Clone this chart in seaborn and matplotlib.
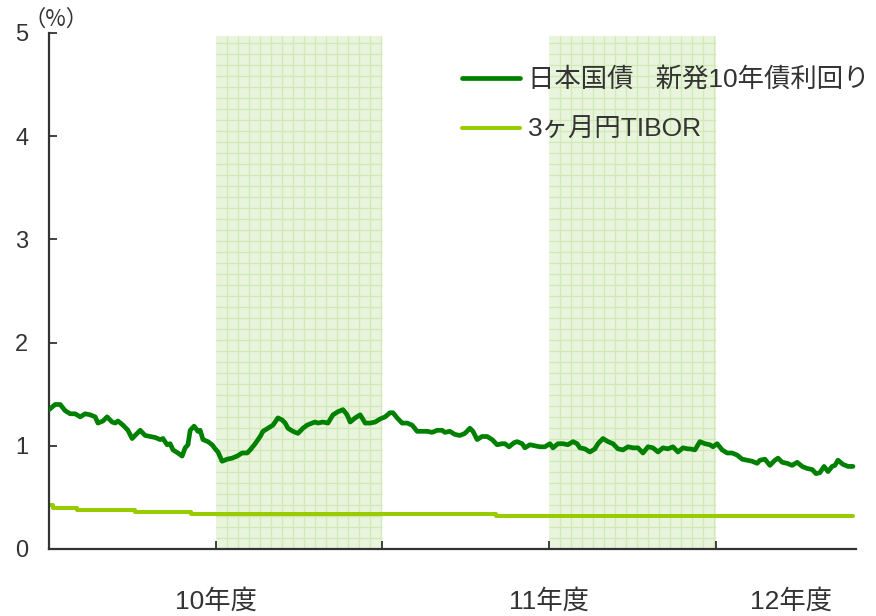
import numpy as np
import pandas as pd
import matplotlib
matplotlib.use("Agg")
import matplotlib.pyplot as plt
import seaborn as sns

# Months elapsed on the horizontal axis (ticks every half year)
jgb_month = [
    0.00, 0.22, 0.40, 0.58, 0.76, 0.94, 1.12, 1.30, 1.48, 1.66, 1.76, 1.94,
    2.09, 2.27, 2.38, 2.48, 2.66, 2.84, 2.99, 3.10, 3.28, 3.46, 3.64, 3.82,
    4.00, 4.10, 4.25, 4.36, 4.46, 4.64, 4.79, 4.90, 5.00, 5.08, 5.22, 5.36,
    5.44, 5.54, 5.72, 5.87, 5.98, 6.08, 6.23, 6.41, 6.59, 6.77, 6.95, 7.13,
    7.24, 7.42, 7.60, 7.70, 7.88, 8.06, 8.24, 8.39, 8.50, 8.60, 8.78, 8.96,
    9.14, 9.29, 9.47, 9.58, 9.68, 9.86, 10.04, 10.22, 10.40, 10.58, 10.73, 10.84,
    11.02, 11.20, 11.38, 11.56, 11.74, 11.92, 12.10, 12.27, 12.38, 12.53, 12.71, 12.89,
    13.07, 13.25, 13.43, 13.61, 13.79, 13.97, 14.15, 14.25, 14.43, 14.61, 14.79, 14.97,
    15.15, 15.26, 15.41, 15.59, 15.77, 15.95, 16.13, 16.31, 16.41, 16.56, 16.74, 16.85,
    17.03, 17.13, 17.31, 17.49, 17.67, 17.85, 18.03, 18.14, 18.32, 18.50, 18.68, 18.86,
    19.01, 19.11, 19.29, 19.47, 19.65, 19.76, 19.94, 20.12, 20.30, 20.48, 20.66, 20.84,
    21.02, 21.20, 21.38, 21.56, 21.74, 21.92, 22.10, 22.28, 22.46, 22.64, 22.82, 23.00,
    23.07, 23.25, 23.43, 23.61, 23.79, 23.90, 24.05, 24.23, 24.41, 24.59, 24.77, 24.95,
    25.13, 25.31, 25.49, 25.59, 25.77, 25.95, 26.13, 26.24, 26.39, 26.57, 26.75, 26.93,
    27.11, 27.29, 27.47, 27.61, 27.75, 27.90, 28.04, 28.19, 28.29, 28.40, 28.58, 28.76,
    28.94,
]
jgb_yield = [
    1.35, 1.40, 1.40, 1.34, 1.31, 1.31, 1.28, 1.31, 1.30, 1.28, 1.22, 1.24,
    1.28, 1.23, 1.22, 1.24, 1.20, 1.15, 1.07, 1.10, 1.15, 1.10, 1.09, 1.08,
    1.06, 1.07, 1.01, 1.02, 0.96, 0.93, 0.90, 0.98, 1.01, 1.15, 1.19, 1.14,
    1.15, 1.06, 1.04, 1.01, 0.97, 0.94, 0.85, 0.87, 0.88, 0.90, 0.93, 0.93,
    0.96, 1.02, 1.09, 1.14, 1.17, 1.20, 1.27, 1.25, 1.22, 1.17, 1.14, 1.12,
    1.17, 1.20, 1.22, 1.23, 1.22, 1.23, 1.22, 1.30, 1.33, 1.35, 1.30, 1.23,
    1.27, 1.30, 1.22, 1.22, 1.23, 1.26, 1.28, 1.32, 1.32, 1.27, 1.22, 1.22,
    1.20, 1.14, 1.14, 1.14, 1.13, 1.15, 1.15, 1.13, 1.14, 1.11, 1.10, 1.12,
    1.17, 1.14, 1.06, 1.09, 1.09, 1.06, 1.01, 1.02, 1.02, 0.99, 1.03, 1.04,
    1.02, 0.98, 1.01, 1.00, 0.99, 0.99, 1.02, 0.98, 1.02, 1.02, 1.01, 1.04,
    1.02, 0.98, 0.97, 0.94, 0.97, 1.02, 1.07, 1.04, 1.02, 0.97, 0.96, 0.99,
    0.98, 0.98, 0.93, 0.99, 0.98, 0.94, 0.98, 0.97, 0.99, 0.94, 0.98, 0.97,
    0.97, 0.96, 1.04, 1.02, 1.01, 0.99, 1.02, 0.96, 0.93, 0.93, 0.91, 0.87,
    0.86, 0.85, 0.83, 0.86, 0.87, 0.81, 0.86, 0.88, 0.84, 0.83, 0.81, 0.84,
    0.80, 0.78, 0.77, 0.73, 0.74, 0.80, 0.75, 0.80, 0.81, 0.86, 0.82, 0.80,
    0.80,
]

tibor_month = [0.00, 0.15, 1.00, 3.10, 5.10, 16.10, 28.94]
tibor_rate = [0.43, 0.40, 0.38, 0.36, 0.34, 0.32, 0.32]

period_ticks = [6, 12, 18, 24]
shaded_periods = [(6, 12), (18, 24)]
year_label_pos = [6, 18, 26.7]
year_labels = ["10年度", "11年度", "12年度"]
y_ticks = [0, 1, 2, 3, 4, 5]
series_names = ["日本国債   新発10年債利回り", "3ヶ月円TIBOR"]

sns.set_theme(style="white")
plt.rcParams["font.family"] = ["Liberation Sans", "Noto Sans CJK JP"]

jgb = pd.DataFrame({"month": jgb_month, "rate": jgb_yield})
tibor = pd.DataFrame({"month": tibor_month, "rate": tibor_rate})

ink = "#333333"
dark_green = "#008000"
light_green = "#99cc00"
band_fill = "#e8f5dc"
band_grid = "#d0e9b6"

fig = plt.figure(figsize=(8.76, 6.16), dpi=100)
ax = fig.add_axes([0.056, 0.1088, 0.9212, 0.8377])

# Shaded half-year bands with a fine graph-paper grid
band_top = 4.97
step_x, step_y = 0.396, 0.1066
for a, b in shaded_periods:
    ax.fill_between([a, b], 0, band_top, color=band_fill, lw=0, zorder=0)
    xs = np.arange(a, b, step_x)[1:]
    ax.vlines(xs, 0, band_top, color=band_grid, lw=0.9, zorder=0.5)
    ys = np.arange(0, band_top, step_y)[1:]
    ax.hlines(ys, a, b, color=band_grid, lw=0.9, zorder=0.5)

sns.lineplot(data=jgb, x="month", y="rate", ax=ax, color=dark_green, lw=3.4,
             label=series_names[0], estimator=None, zorder=3)
sns.lineplot(data=tibor, x="month", y="rate", ax=ax, color=light_green, lw=2.9,
             label=series_names[1], estimator=None, drawstyle="steps-post", zorder=2)

ax.set_xlim(0, 29.05)
ax.set_ylim(0, 5)
ax.set_xlabel("")
ax.set_ylabel("")

for side in ("top", "right"):
    ax.spines[side].set_visible(False)
for side in ("left", "bottom"):
    ax.spines[side].set_color(ink)
    ax.spines[side].set_linewidth(1.6)

ax.set_yticks(y_ticks)
ax.set_yticklabels([str(t) for t in y_ticks])
ax.tick_params(axis="y", direction="in", length=6, width=1.3, color=ink,
               labelsize=17, labelcolor=ink, pad=15, left=True)

# Half-year tick marks plus fiscal-year labels placed independently
ax.xaxis.remove_overlapping_locs = False
ax.set_xticks(period_ticks)
ax.set_xticklabels([])
ax.set_xticks(year_label_pos, labels=year_labels, minor=True)
ax.tick_params(axis="x", which="major", direction="in", length=6, width=1.3,
               color=ink, bottom=True)
ax.tick_params(axis="x", which="minor", length=0, labelsize=19,
               labelcolor=ink, pad=29)

fig.text(56 / 876, 1 - 19 / 616, "\uff08%\uff09", ha="center", va="center",
         fontsize=16, color=ink, family=["Noto Sans CJK JP", "DejaVu Sans"])

handles, labels = ax.get_legend_handles_labels()
leg = ax.legend(handles, labels, loc="upper left",
                bbox_to_anchor=(462 / 876, 1 - 67 / 616),
                bbox_transform=fig.transFigure, frameon=False, fontsize=19,
                handlelength=2.2, handletextpad=0.3, labelspacing=1.0,
                borderpad=0, borderaxespad=0)
for t in leg.get_texts():
    t.set_color(ink)

fig.savefig("out.png", dpi=100)
